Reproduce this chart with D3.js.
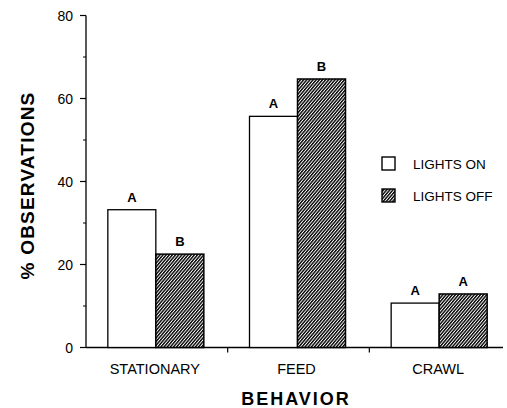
<!DOCTYPE html>
<html>
<head>
<meta charset="utf-8">
<script src="https://cdn.jsdelivr.net/npm/d3@7"></script>
<style>
  body { margin: 0; background: #fff; }
  svg { display: block; font-family: "Liberation Sans", Arial, sans-serif; }
</style>
</head>
<body>
<svg width="507" height="408"></svg>
<script>
const behaviors = ["STATIONARY", "FEED", "CRAWL"];
const lightsOn = [33.2, 55.7, 10.7];
const lightsOff = [22.5, 64.7, 12.9];
const lettersOn = ["A", "A", "A"];
const lettersOff = ["B", "B", "A"];
const seriesNames = ["LIGHTS ON", "LIGHTS OFF"];
const yTicks = [0, 20, 40, 60, 80];
const yMinor = [10, 30, 50, 70];

const svg = d3.select("svg");

const defs = svg.append("defs");
const pat = defs.append("pattern")
  .attr("id", "hatch")
  .attr("patternUnits", "userSpaceOnUse")
  .attr("width", 2.4)
  .attr("height", 4)
  .attr("patternTransform", "rotate(40)");
pat.append("rect").attr("width", 2.4).attr("height", 4).attr("fill", "#fff");
pat.append("line")
  .attr("x1", 0.7).attr("y1", 0).attr("x2", 0.7).attr("y2", 4)
  .attr("stroke", "#000").attr("stroke-width", 1.45);

const x = d3.scaleBand().domain(behaviors).range([86, 511]);
const y = d3.scaleLinear().domain([0, 80]).range([347.5, 15.5]);

const barW = 48;

// axes
const g = svg.append("g");
g.append("line")
  .attr("x1", x.range()[0]).attr("x2", 503)
  .attr("y1", y(0)).attr("y2", y(0))
  .attr("stroke", "#000").attr("stroke-width", 1.3);
g.append("line")
  .attr("x1", x.range()[0]).attr("x2", x.range()[0])
  .attr("y1", y(0)).attr("y2", y(80))
  .attr("stroke", "#000").attr("stroke-width", 1.3);

g.selectAll(".ytick").data(yTicks).enter().append("line")
  .attr("x1", 80).attr("x2", 86)
  .attr("y1", d => y(d)).attr("y2", d => y(d))
  .attr("stroke", "#000").attr("stroke-width", 1.2);
g.selectAll(".yminor").data(yMinor).enter().append("line")
  .attr("x1", 83).attr("x2", 86)
  .attr("y1", d => y(d)).attr("y2", d => y(d))
  .attr("stroke", "#000").attr("stroke-width", 1);
g.selectAll(".ylab").data(yTicks).enter().append("text")
  .attr("x", 73).attr("y", d => y(d) + 5)
  .attr("text-anchor", "end")
  .attr("font-size", 14)
  .text(d => d);

// x ticks between groups
g.selectAll(".xtick").data(behaviors.slice(1)).enter().append("line")
  .attr("x1", d => x(d)).attr("x2", d => x(d))
  .attr("y1", y(0)).attr("y2", y(0) + 5)
  .attr("stroke", "#000").attr("stroke-width", 1.2);
g.selectAll(".xlab").data(behaviors).enter().append("text")
  .attr("x", d => x(d) + x.bandwidth() / 2 - 2)
  .attr("y", 374)
  .attr("text-anchor", "middle")
  .attr("font-size", 14.5)
  .text(d => d);

// bars
const bars = svg.append("g");
behaviors.forEach((b, i) => {
  const cx = x(b) + x.bandwidth() / 2 - 1;
  bars.append("rect")
    .attr("x", cx - barW).attr("y", y(lightsOn[i]))
    .attr("width", barW).attr("height", y(0) - y(lightsOn[i]))
    .attr("fill", "#fff").attr("stroke", "#000").attr("stroke-width", 1.3);
  bars.append("rect")
    .attr("x", cx).attr("y", y(lightsOff[i]))
    .attr("width", barW).attr("height", y(0) - y(lightsOff[i]))
    .attr("fill", "url(#hatch)").attr("stroke", "#000").attr("stroke-width", 1.5);
  bars.append("text")
    .attr("x", cx - barW / 2).attr("y", y(lightsOn[i]) - 8)
    .attr("text-anchor", "middle").attr("font-size", 13).attr("font-weight", "bold")
    .text(lettersOn[i]);
  bars.append("text")
    .attr("x", cx + barW / 2).attr("y", y(lightsOff[i]) - 8)
    .attr("text-anchor", "middle").attr("font-size", 13).attr("font-weight", "bold")
    .text(lettersOff[i]);
});

// legend
const legend = svg.append("g").attr("transform", "translate(382,157)");
seriesNames.forEach((s, i) => {
  legend.append("rect")
    .attr("x", 0).attr("y", i * 32)
    .attr("width", 13).attr("height", 13)
    .attr("fill", i === 0 ? "#fff" : "url(#hatch)")
    .attr("stroke", "#000").attr("stroke-width", 1.4);
  legend.append("text")
    .attr("x", 31).attr("y", i * 32 + 12)
    .attr("font-size", 13.5)
    .text(s);
});

// axis titles
svg.append("text")
  .attr("transform", `translate(34,${(y(0) + y(80)) / 2 + 4}) rotate(-90)`)
  .attr("text-anchor", "middle")
  .attr("font-size", 19).attr("font-weight", "bold")
  .attr("letter-spacing", 1.2)
  .text("% OBSERVATIONS");
svg.append("text")
  .attr("x", 296).attr("y", 405)
  .attr("text-anchor", "middle")
  .attr("font-size", 18).attr("font-weight", "bold")
  .attr("letter-spacing", 2)
  .text("BEHAVIOR");
</script>
</body>
</html>
